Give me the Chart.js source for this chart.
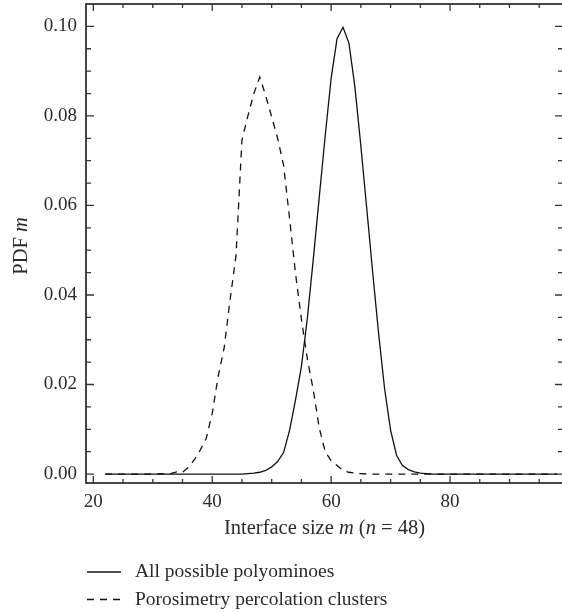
<!DOCTYPE html>
<html>
<head>
<meta charset="utf-8">
<title>PDF of interface size</title>
<script src="https://cdn.jsdelivr.net/npm/chart.js@4.4.1/dist/chart.umd.min.js"></script>
<style>
  html, body { margin: 0; padding: 0; background: #fff; overflow: hidden; }
  #wrap { width: 566px; height: 612px; }
</style>
</head>
<body>
<div id="wrap"><canvas id="pdfChart" width="566" height="612"></canvas></div>
<script>
  // interface size m (n = 48); integer steps where the curves move
  const sizeM = [22, 26, 30,
    33, 34, 35, 36, 37, 38, 39, 40, 41, 42, 43, 44, 45, 46, 47, 48, 49, 50,
    51, 52, 53, 54, 55, 56, 57, 58, 59, 60, 61, 62, 63, 64, 65, 66, 67, 68,
    69, 70, 71, 72, 73, 74, 75, 76, 77,
    80, 85, 90, 95, 98];

  const allPolyominoes = [0, 0, 0,
    0, 0, 0, 0, 0, 0, 0, 0, 0, 0, 0, 0, 0, 0.0001, 0.0002, 0.0004, 0.0008, 0.0016,
    0.0028, 0.0048, 0.0097, 0.0165, 0.0240, 0.0348, 0.0480, 0.0618, 0.0755, 0.0884, 0.0973, 0.0998, 0.0962, 0.0865, 0.0733, 0.0592, 0.0449, 0.0312,
    0.0190, 0.0098, 0.0042, 0.0019, 0.0010, 0.0005, 0.0002, 0.0001, 0,
    0, 0, 0, 0, 0];

  const percolationClusters = [0, 0, 0,
    0.0001, 0.0005, 0.0004, 0.0015, 0.0032, 0.0054, 0.0080, 0.0136, 0.0218, 0.0281, 0.0389, 0.0488, 0.0746, 0.0800, 0.0850, 0.0887, 0.0845, 0.0798,
    0.0750, 0.0690, 0.0572, 0.0449, 0.0346, 0.0257, 0.0188, 0.0103, 0.0050, 0.0030, 0.0019, 0.0008, 0.0004, 0.0002, 0.0001, 0, 0, 0,
    0, 0, 0, 0, 0, 0, 0, 0, 0,
    0, 0, 0, 0, 0];

  const seriesLabels = ['All possible polyominoes', 'Porosimetry percolation clusters'];
  const xTickValues = [20, 40, 60, 80];
  const yTickValues = [0, 0.02, 0.04, 0.06, 0.08, 0.10];

  const FONT = '"Liberation Serif", "DejaVu Serif", serif';
  const FONT_SIZE = 19;
  const TITLE_SIZE = 20.5;
  const TEXT_COLOR = '#2b2b2b';
  const AXIS_COLOR = '#333';
  const LINE_COLOR = '#111';
  const DASH = [7, 6];

  const toPoints = (values) => sizeM.map((m, i) => ({ x: m, y: values[i] }));

  /* =====================================================
     FRAME + INWARD TICKS (all four sides)
     ===================================================== */
  const frameAndTicks = {
    id: 'frameAndTicks',
    afterDraw(chart) {
      const { ctx, chartArea: a, scales: { x, y } } = chart;
      ctx.save();
      ctx.strokeStyle = AXIS_COLOR;
      ctx.lineWidth = 1.3;
      ctx.beginPath();
      for (let v = 20; v <= x.max; v += 5) {
        const px = x.getPixelForValue(v);
        const len = v % 20 === 0 ? 7 : 4;
        ctx.moveTo(px, a.bottom); ctx.lineTo(px, a.bottom - len);
        ctx.moveTo(px, a.top); ctx.lineTo(px, a.top + len);
      }
      for (let k = 0; k <= 20; k++) {
        const py = y.getPixelForValue(k * 0.005);
        const len = k % 4 === 0 ? 8 : 5;
        ctx.moveTo(a.left, py); ctx.lineTo(a.left + len, py);
        ctx.moveTo(a.right, py); ctx.lineTo(a.right - len, py);
      }
      ctx.stroke();
      ctx.lineWidth = 1.8;
      ctx.strokeRect(a.left, a.top, a.right - a.left, a.bottom - a.top);
      ctx.restore();
    }
  };

  /* =====================================================
     AXIS TITLES (mixed italic) + LEGEND
     ===================================================== */
  function setFont(ctx, italic, size) {
    ctx.font = (italic ? 'italic ' : '') + size + 'px ' + FONT;
  }

  function drawParts(ctx, parts, x, y, size) {
    let cx = x;
    parts.forEach(([text, italic]) => {
      setFont(ctx, italic, size);
      ctx.fillText(text, cx, y);
      cx += ctx.measureText(text).width;
    });
  }

  function partsWidth(ctx, parts, size) {
    return parts.reduce((w, [text, italic]) => {
      setFont(ctx, italic, size);
      return w + ctx.measureText(text).width;
    }, 0);
  }

  const titlesAndLegend = {
    id: 'titlesAndLegend',
    afterDraw(chart) {
      const { ctx, chartArea: a } = chart;
      ctx.save();
      ctx.fillStyle = TEXT_COLOR;
      ctx.textAlign = 'left';
      ctx.textBaseline = 'alphabetic';

      const xTitle = [['Interface size ', false], ['m', true], [' (', false], ['n', true], [' = 48)', false]];
      const xw = partsWidth(ctx, xTitle, TITLE_SIZE);
      drawParts(ctx, xTitle, (a.left + a.right) / 2 - xw / 2, 534, TITLE_SIZE);

      const yTitle = [['PDF ', false], ['m', true]];
      const yw = partsWidth(ctx, yTitle, TITLE_SIZE);
      ctx.save();
      ctx.translate(27, 246);
      ctx.rotate(-Math.PI / 2);
      drawParts(ctx, yTitle, -yw / 2, 0, TITLE_SIZE);
      ctx.restore();

      chart.data.datasets.forEach((ds, i) => {
        const ly = 572 + i * 27.5;
        ctx.save();
        ctx.strokeStyle = ds.borderColor;
        ctx.lineWidth = ds.borderWidth;
        ctx.setLineDash(ds.borderDash || []);
        ctx.beginPath();
        ctx.moveTo(87, ly);
        ctx.lineTo(121, ly);
        ctx.stroke();
        ctx.restore();
        setFont(ctx, false, 19.5);
        ctx.fillText(ds.label, 135, ly + 5);
      });
      ctx.restore();
    }
  };

  /* =====================================================
     CHART
     ===================================================== */
  new Chart(document.getElementById('pdfChart').getContext('2d'), {
    type: 'line',
    data: {
      datasets: [
        {
          label: seriesLabels[0],
          data: toPoints(allPolyominoes),
          borderColor: LINE_COLOR,
          borderWidth: 1.3,
          pointRadius: 0,
          tension: 0,
          fill: false,
        },
        {
          label: seriesLabels[1],
          data: toPoints(percolationClusters),
          borderColor: LINE_COLOR,
          borderWidth: 1.3,
          borderDash: DASH,
          pointRadius: 0,
          tension: 0,
          fill: false,
        },
      ],
    },
    options: {
      responsive: false,
      animation: false,
      layout: { padding: { top: 4, right: 3, bottom: 99, left: 0 } },
      plugins: {
        legend: { display: false },
        tooltip: { enabled: false },
      },
      scales: {
        x: {
          type: 'linear',
          min: 18.77,
          max: 99.0,
          grid: { display: false, drawTicks: false },
          border: { display: false },
          afterBuildTicks: (scale) => { scale.ticks = xTickValues.map((v) => ({ value: v })); },
          afterFit: (scale) => {
            scale.height = 30;
            scale.paddingLeft = 0;
            scale.paddingRight = 0;
          },
          ticks: {
            padding: 8,
            maxRotation: 0,
            color: TEXT_COLOR,
            font: { family: FONT, size: FONT_SIZE },
            callback: (v) => String(v),
          },
        },
        y: {
          min: -0.002,
          max: 0.105,
          grid: { display: false, drawTicks: false },
          border: { display: false },
          afterBuildTicks: (scale) => { scale.ticks = yTickValues.map((v) => ({ value: v })); },
          afterFit: (scale) => {
            scale.width = 86;
            scale.paddingTop = 0;
            scale.paddingBottom = 0;
          },
          ticks: {
            padding: 9,
            color: TEXT_COLOR,
            font: { family: FONT, size: FONT_SIZE },
            callback: (v) => Number(v).toFixed(2),
          },
        },
      },
    },
    plugins: [frameAndTicks, titlesAndLegend],
  });
</script>
</body>
</html>
